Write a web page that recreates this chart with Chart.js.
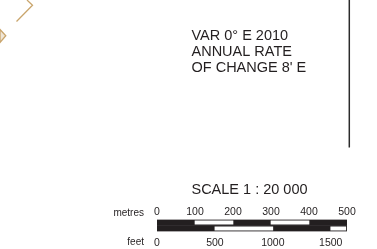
<!DOCTYPE html>
<html>
<head>
<meta charset="utf-8">
<script src="https://cdn.jsdelivr.net/npm/chart.js@4"></script>
<style>
  html, body { margin: 0; padding: 0; background: #fff; }
  #wrap { width: 377px; height: 249px; position: relative; }
</style>
</head>
<body>
<div id="wrap"><canvas id="myChart"></canvas></div>
<script>
// scale bar: top row in metres, bottom row in feet
const rows = ['metres', 'feet'];
const metreBreaks = [0, 100, 200, 300, 400, 500];
const feetBreaks = [0, 500, 1000, 1500, 1630];
const metreTicks = [0, 100, 200, 300, 400, 500];
const feetTicks = [0, 500, 1000, 1500];
const barLengthMetres = 500;
const barLengthFeet = 1640.42;
const noteLines = ['VAR 0° E 2010', 'ANNUAL RATE', 'OF CHANGE 8\' E'];
const scaleTitle = 'SCALE 1 : 20 000';

const ink = '#231f20';
const fontFamily = '"Liberation Sans", Arial, sans-serif';

// black body of the bar, one per row
const datasets = [
    {
        label: 'bar metres',
        data: [[0, barLengthMetres], null],
        backgroundColor: ink,
        xAxisID: 'xm',
        categoryPercentage: 1,
        barPercentage: 1,
        grouped: false,
        order: 2
    },
    {
        label: 'bar feet',
        data: [null, [0, barLengthFeet]],
        backgroundColor: ink,
        xAxisID: 'xf',
        categoryPercentage: 1,
        barPercentage: 1,
        grouped: false,
        order: 2
    }
];

// white segments (every second interval)
function whiteSegments(breaks, rowIdx, axisId) {
    for (let i = 1; i < breaks.length - 1; i += 2) {
        const data = [null, null];
        data[rowIdx] = [breaks[i], breaks[i + 1]];
        datasets.push({
            label: axisId + ' ' + breaks[i],
            data: data,
            backgroundColor: '#ffffff',
            xAxisID: axisId,
            barThickness: 3.5,
            grouped: false,
            order: 1
        });
    }
}
whiteSegments(metreBreaks, 0, 'xm');
whiteSegments(feetBreaks, 1, 'xf');

const extras = {
    id: 'extras',
    afterDraw(chart) {
        const c = chart.ctx;
        c.save();
        // compass rose fragments, top left
        c.strokeStyle = '#c9a56c';
        c.lineWidth = 1.3;
        c.beginPath();
        c.moveTo(16.5, 21.5);
        c.lineTo(32.5, 5.2);
        c.lineTo(27, 0);
        c.stroke();
        c.fillStyle = '#efe6d7';
        c.beginPath();
        c.moveTo(0, 29.5);
        c.lineTo(5.8, 35.8);
        c.lineTo(0, 42.5);
        c.closePath();
        c.fill();
        c.stroke();
        // frame line on the right
        c.strokeStyle = '#2b2b2b';
        c.lineWidth = 1.5;
        c.beginPath();
        c.moveTo(349.3, 0);
        c.lineTo(349.3, 147.5);
        c.stroke();
        // notes
        c.fillStyle = ink;
        c.font = '14.5px ' + fontFamily;
        c.textAlign = 'left';
        c.textBaseline = 'alphabetic';
        noteLines.forEach((t, i) => c.fillText(t, 191.5, 39.5 + i * 16));
        c.textAlign = 'center';
        c.fillText(scaleTitle, 249.5, 194);
        // row labels
        c.font = '10px ' + fontFamily;
        c.textAlign = 'right';
        c.fillText(rows[0], 144, 215.7);
        c.fillText(rows[1], 144, 245);
        c.restore();
    }
};

const tickFont = { family: fontFamily, size: 10.5 };

const ctx = document.getElementById('myChart').getContext('2d');
const myChart = new Chart(ctx, {
    type: 'bar',
    data: {
        labels: rows,
        datasets: datasets
    },
    plugins: [extras],
    options: {
        indexAxis: 'y',
        responsive: true,
        maintainAspectRatio: false,
        animation: false,
        layout: {
            padding: { left: 157, right: 30, top: 205.5, bottom: 0 }
        },
        plugins: {
            legend: { display: false },
            tooltip: { enabled: false }
        },
        scales: {
            y: {
                display: false,
                offset: true
            },
            xm: {
                type: 'linear',
                position: 'top',
                min: 0,
                max: barLengthMetres,
                afterFit: (s) => { s.height = 14; },
                afterBuildTicks: (s) => { s.ticks = metreTicks.map(v => ({ value: v })); },
                grid: { display: false, drawTicks: false },
                border: { display: false },
                ticks: {
                    padding: 1,
                    color: ink,
                    font: tickFont,
                    callback: (v) => String(v)
                }
            },
            xf: {
                type: 'linear',
                position: 'bottom',
                min: 0,
                max: barLengthFeet,
                afterFit: (s) => { s.height = 17.5; },
                afterBuildTicks: (s) => { s.ticks = feetTicks.map(v => ({ value: v })); },
                grid: { display: false, drawTicks: false },
                border: { display: false },
                ticks: {
                    padding: 5,
                    color: ink,
                    font: tickFont,
                    callback: (v) => String(v)
                }
            }
        }
    }
});
</script>
</body>
</html>
